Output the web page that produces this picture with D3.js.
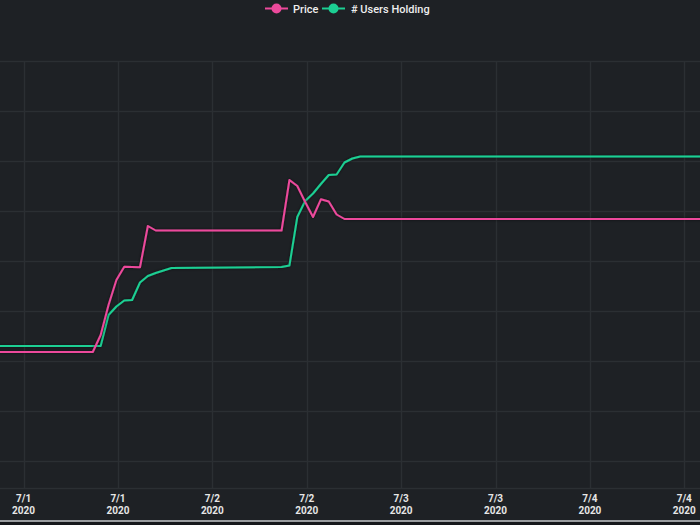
<!DOCTYPE html>
<html>
<head>
<meta charset="utf-8">
<script src="https://cdn.jsdelivr.net/npm/d3@7/dist/d3.min.js"></script>
<style>
html,body{margin:0;padding:0;background:#1e2125;}
svg{display:block;}
</style>
</head>
<body>
<svg id="chart" width="700" height="525"></svg>
<script>
// ---- data ----
const seriesNames = ["Price", "# Users Holding"];
const priceTimes = ["2020-06-30T18:48Z","2020-07-01T08:48Z","2020-07-01T09:48Z","2020-07-01T10:48Z","2020-07-01T11:48Z","2020-07-01T12:48Z","2020-07-01T13:48Z","2020-07-01T14:48Z","2020-07-01T15:48Z","2020-07-01T16:48Z","2020-07-02T08:48Z","2020-07-02T09:48Z","2020-07-02T10:48Z","2020-07-02T11:48Z","2020-07-02T12:48Z","2020-07-02T13:48Z","2020-07-02T14:48Z","2020-07-02T15:48Z","2020-07-02T16:48Z","2020-07-04T16:48Z"];
const priceValues = [1.09,1.09,1.26,1.56,1.81,1.943,1.94,1.937,2.35,2.305,2.305,2.81,2.75,2.59,2.44,2.617,2.595,2.465,2.42,2.42];
const userTimes = ["2020-06-30T18:48Z","2020-07-01T09:48Z","2020-07-01T10:48Z","2020-07-01T11:48Z","2020-07-01T12:48Z","2020-07-01T13:48Z","2020-07-01T14:48Z","2020-07-01T15:48Z","2020-07-01T16:48Z","2020-07-01T17:48Z","2020-07-01T18:48Z","2020-07-02T08:48Z","2020-07-02T09:48Z","2020-07-02T10:48Z","2020-07-02T11:48Z","2020-07-02T12:48Z","2020-07-02T13:48Z","2020-07-02T14:48Z","2020-07-02T15:48Z","2020-07-02T16:48Z","2020-07-02T17:48Z","2020-07-02T18:48Z","2020-07-04T16:48Z"];
const userValues = [230,230,292,309,321,322,357,370,376,381,386,388,391,488,520,535,554,572,573,597,605,609,609];
const xDomain = ["2020-06-30T21:00Z","2020-07-04T14:00Z"];
const priceDomain = [0, 4];
const userDomain = [0, 800];
const yGridValues = [0,0.5,1,1.5,2,2.5,3,3.5,4];

// ---- layout ----
const W = 700, H = 525;
const plotTop = 61, plotBottom = 461, gridBottom = 488;
const svg = d3.select("#chart");
svg.append("rect").attr("width", W).attr("height", H).attr("fill", "#1e2125");

const x = d3.scaleUtc().domain(xDomain.map(d => new Date(d))).range([0, W]);
const yP = d3.scaleLinear().domain(priceDomain).range([plotBottom, plotTop]);
const yU = d3.scaleLinear().domain(userDomain).range([plotBottom, plotTop]);

const gridColor = "#2b2f33";
// horizontal grid
svg.append("g").selectAll("line").data(yGridValues).join("line")
  .attr("x1", 0).attr("x2", W)
  .attr("y1", d => Math.round(yP(d)) + 0.5).attr("y2", d => Math.round(yP(d)) + 0.5)
  .attr("stroke", gridColor).attr("stroke-width", 1.5);
svg.append("line").attr("x1",0).attr("x2",W).attr("y1",gridBottom+0.5).attr("y2",gridBottom+0.5)
  .attr("stroke", gridColor).attr("stroke-width", 1.5);

// vertical grid + ticks
const ticks = x.ticks(d3.utcHour.every(12));
svg.append("g").selectAll("line").data(ticks).join("line")
  .attr("x1", d => Math.round(x(d)) + 0.5).attr("x2", d => Math.round(x(d)) + 0.5)
  .attr("y1", plotTop).attr("y2", gridBottom)
  .attr("stroke", gridColor).attr("stroke-width", 1.5);

const fmtMD = d3.utcFormat("%-m/%-d"), fmtY = d3.utcFormat("%Y");
const tl = svg.append("g").attr("font-family", "Roboto, sans-serif")
  .attr("font-size", 10).attr("font-weight", 700).attr("fill", "#e6e6e6").attr("text-anchor", "middle");
const tt = tl.selectAll("text").data(ticks).join("text")
  .attr("x", d => x(d)).attr("y", 502);
tt.append("tspan").attr("x", d => x(d)).text(d => fmtMD(d));
tt.append("tspan").attr("x", d => x(d)).attr("dy", 11.8).text(d => fmtY(d));

// bottom bar
svg.append("rect").attr("x",0).attr("y",520).attr("width",W).attr("height",2).attr("fill","#9a9da0");
svg.append("rect").attr("x",0).attr("y",522).attr("width",W).attr("height",3).attr("fill","#16181b");

// lines
const defs = svg.append("defs");
const f = defs.append("filter").attr("id","glow").attr("x","-10%").attr("y","-10%").attr("width","120%").attr("height","120%");
f.append("feDropShadow").attr("dx",0).attr("dy",0).attr("stdDeviation",1.5).attr("flood-color","#000").attr("flood-opacity",0.6);

const priceData = priceTimes.map((t,i) => ({t: new Date(t), v: priceValues[i]}));
const userData = userTimes.map((t,i) => ({t: new Date(t), v: userValues[i]}));
const lineP = d3.line().x(d => x(d.t)).y(d => yP(d.v));
const lineU = d3.line().x(d => x(d.t)).y(d => yU(d.v));
const colors = ["#ec4a9c", "#1ccf93"];

svg.append("path").datum(userData).attr("d", lineU).attr("fill","none")
  .attr("stroke", colors[1]).attr("stroke-width", 2).attr("stroke-linejoin","round").attr("filter","url(#glow)");
svg.append("path").datum(priceData).attr("d", lineP).attr("fill","none")
  .attr("stroke", colors[0]).attr("stroke-width", 2).attr("stroke-linejoin","round").attr("filter","url(#glow)");

// legend
const legend = svg.append("g").attr("font-family","Roboto, sans-serif").attr("font-size",11).attr("font-weight",500);
const legendItems = [{name: seriesNames[0], x: 265, tx: 293, c: colors[0]}, {name: seriesNames[1], x: 322, tx: 351, c: colors[1]}];
legendItems.forEach(it => {
  legend.append("line").attr("x1", it.x).attr("x2", it.x + 23).attr("y1", 8.5).attr("y2", 8.5)
    .attr("stroke", it.c).attr("stroke-width", 2);
  legend.append("circle").attr("cx", it.x + 11.5).attr("cy", 8.5).attr("r", 5).attr("fill", it.c);
  legend.append("text").attr("x", it.tx).attr("y", 12.5).attr("fill", "#eeeeee").text(it.name);
});
</script>
</body>
</html>
